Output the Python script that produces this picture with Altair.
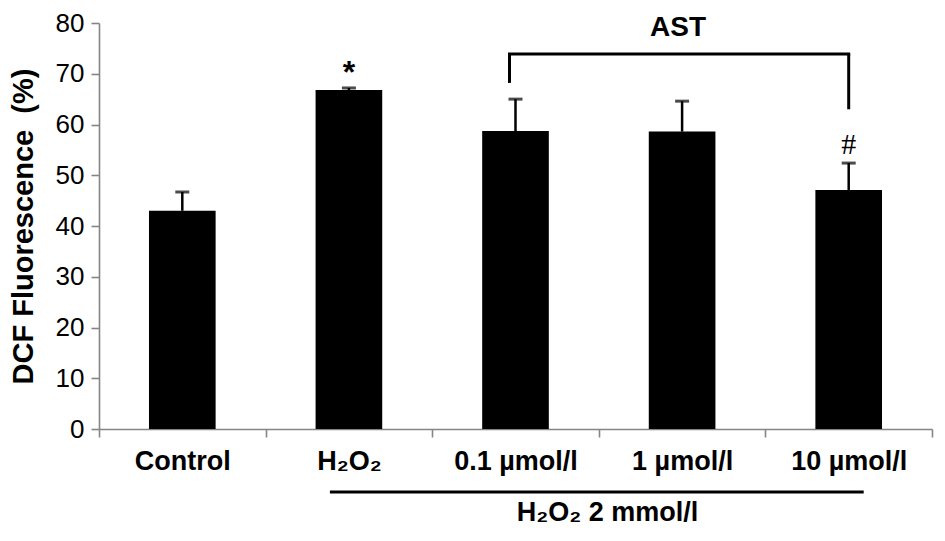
import altair as alt
import pandas as pd

# ---- data ----
categories = ["Control", "H₂O₂", "0.1 µmol/l", "1 µmol/l", "10 µmol/l"]
means = [43.0, 66.8, 58.7, 58.6, 47.1]
sem_up = [3.7, 0.4, 6.3, 6.0, 5.3]

# significance marks
sig_cats = ["H₂O₂", "10 µmol/l"]
sig_text = ["*", "#"]
sig_y = [71.0, 56.0]

# AST bracket
bracket_cats = ["0.1 µmol/l", "10 µmol/l"]
bracket_top = 73.9
bracket_bottom = [68.2, 63.0]
ast_label = "AST"
ast_cat = "1 µmol/l"
ast_y = 79.0

group_label = "H₂O₂ 2 mmol/l"
group_start = "H₂O₂"
group_end = "10 µmol/l"

FONT = "Liberation Sans"

df = pd.DataFrame({"cat": categories, "val": means,
                   "hi": [m + e for m, e in zip(means, sem_up)]})
sig_df = pd.DataFrame({"cat": sig_cats, "txt": sig_text, "y": sig_y})
brk_v = pd.DataFrame({"cat": bracket_cats, "y": bracket_bottom,
                      "y2": [bracket_top] * len(bracket_cats)})
brk_h = pd.DataFrame({"c1": [bracket_cats[0]], "c2": [bracket_cats[-1]], "y": [bracket_top]})
ast_df = pd.DataFrame({"cat": [ast_cat], "txt": [ast_label], "y": [ast_y]})
grp_df = pd.DataFrame({"c1": [group_start], "c2": [group_end], "mid": ["0.1 µmol/l"],
                       "txt": [group_label]})

xscale = alt.Scale(domain=categories, paddingInner=0, paddingOuter=0)
yscale = alt.Scale(domain=[0, 80])

x_axis = alt.Axis(title=None, labelAngle=0, tickBand="extent", labelFontSize=27,
                  labelFontWeight="bold", labelFont=FONT, labelColor="black",
                  tickSize=8, labelPadding=11, domainColor="#858585",
                  tickColor="#858585", domainWidth=1.6, tickWidth=1.6)
y_axis = alt.Axis(title="DCF Fluorescence\u00a0\u00a0(%)", values=list(range(0, 81, 10)),
                  labelFontSize=26, labelFont=FONT, labelColor="black",
                  tickSize=8, labelPadding=7, domainColor="#858585",
                  tickColor="#858585", domainWidth=1.6, tickWidth=1.6,
                  grid=False, titleFontSize=29, titleFont=FONT, titleFontWeight="bold",
                  titleColor="black", titleX=-76, titleY=203, titleAngle=-90,
                  titleAlign="center", titleBaseline="middle")

bars = alt.Chart(df).mark_bar(color="black", width=alt.RelativeBandSize(0.4)).encode(
    x=alt.X("cat:N", scale=xscale, axis=x_axis),
    y=alt.Y("val:Q", scale=yscale, axis=y_axis))

err = alt.Chart(df).mark_rule(color="black", strokeWidth=2.5).encode(
    x=alt.X("cat:N", scale=xscale), y=alt.Y("val:Q", scale=yscale), y2="hi:Q")

caps = alt.Chart(df).mark_tick(color="black", size=14, thickness=3, orient="horizontal").encode(
    x=alt.X("cat:N", scale=xscale), y=alt.Y("hi:Q", scale=yscale))

star = alt.Chart(sig_df.iloc[[0]]).mark_text(fontSize=32, font=FONT, fontWeight="bold",
                                             color="black", baseline="middle",
                                             align="center", dy=4).encode(
    x=alt.X("cat:N", scale=xscale), y=alt.Y("y:Q", scale=yscale), text="txt:N")
hash_ = alt.Chart(sig_df.iloc[[1]]).mark_text(fontSize=30, font="Liberation Serif",
                                              color="black", baseline="middle",
                                              align="center").encode(
    x=alt.X("cat:N", scale=xscale), y=alt.Y("y:Q", scale=yscale), text="txt:N")

brk_vert_l = alt.Chart(brk_v.iloc[[0]]).mark_rule(color="black", strokeWidth=3, xOffset=-6).encode(
    x=alt.X("cat:N", scale=xscale), y=alt.Y("y:Q", scale=yscale), y2="y2:Q")
brk_vert_r = alt.Chart(brk_v.iloc[[1]]).mark_rule(color="black", strokeWidth=3).encode(
    x=alt.X("cat:N", scale=xscale), y=alt.Y("y:Q", scale=yscale), y2="y2:Q")
brk_horiz = alt.Chart(brk_h).mark_rule(color="black", strokeWidth=3, xOffset=-7.5,
                                       x2Offset=1.5).encode(
    x=alt.X("c1:N", scale=xscale), x2="c2:N", y=alt.Y("y:Q", scale=yscale))

ast = alt.Chart(ast_df).mark_text(fontSize=28, font=FONT, fontWeight="bold", color="black",
                                  baseline="middle", align="center", xOffset=-4).encode(
    x=alt.X("cat:N", scale=xscale), y=alt.Y("y:Q", scale=yscale), text="txt:N")

grp_line = alt.Chart(grp_df).mark_rule(color="black", strokeWidth=3, xOffset=-19,
                                       x2Offset=15).encode(
    x=alt.X("c1:N", scale=xscale), x2="c2:N", y=alt.value(469))

grp_text = alt.Chart(grp_df).mark_text(fontSize=27, font=FONT, fontWeight="bold", color="black",
                                       baseline="middle", align="center", xOffset=92).encode(
    x=alt.X("mid:N", scale=xscale), y=alt.value(490), text="txt:N")

chart = alt.layer(bars, err, caps, star, hash_, brk_vert_l, brk_vert_r, brk_horiz, ast,
                  grp_line, grp_text).properties(
    width=833, height=406,
    autosize=alt.AutoSizeParams(type="none"),
    padding={"left": 91, "top": 15, "right": 5, "bottom": 104},
).configure_view(stroke=None).configure_axis(grid=False)

chart.save("out.html", embed_options={"renderer": "svg", "actions": False})
